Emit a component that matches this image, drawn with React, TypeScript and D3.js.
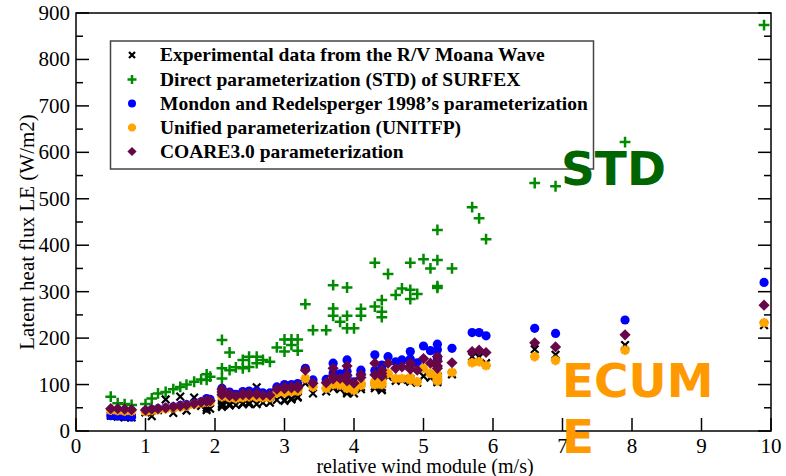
import { useEffect, useRef } from 'react';
import * as d3 from 'd3';

// wind speed (m/s) of each observation
const wind = [
  0.5, 0.6, 0.7, 0.8, 1.0, 1.09, 1.18, 1.29, 1.4, 1.5, 1.59, 1.7, 1.8, 1.88, 1.88, 1.93,
  2.1, 2.1, 2.1, 2.21, 2.21, 2.3, 2.4, 2.4, 2.49, 2.49, 2.6, 2.6, 2.69, 2.79, 2.89,
  3.0, 3.0, 3.1, 3.1, 3.19, 3.19, 3.3, 3.41, 3.6, 3.7, 3.7, 3.7, 3.8, 3.9, 3.9, 3.9,
  4.0, 4.1, 4.1, 4.3, 4.3, 4.4, 4.4, 4.4, 4.49, 4.6, 4.69, 4.81, 4.81, 4.81, 4.91,
  5.0, 5.1, 5.2, 5.2, 5.2, 5.2, 5.41, 5.7, 5.8, 5.9, 6.6, 6.9, 7.9, 9.9,
];
const experimental = [
  33, 31, 29, 29, 40, 32, 45, 68, 39, 74, 44, 72, 54, 45, 50, 48,
  52, 56, 60, 55, 58, 56, 58, 60, 58, 62, 94, 58, 61, 61, 67,
  67, 65, 70, 68, 74, 72, 103, 81, 85, 95, 100, 92, 90, 81, 88, 84,
  81, 95, 90, 92, 96, 88, 95, 90, 117, 108, 110, 112, 108, 106, 104,
  118, 115, 118, 112, 108, 105, 122, 160, 159, 146, 176, 164, 185, 228,
];
const std = [
  74, 60, 58, 56, 58, 70, 81, 84, 90, 95, 100, 106, 111, 122, 110, 117,
  196, 135, 113, 169, 131, 137, 153, 135, 160, 138, 160, 146, 153, 149, 180,
  197, 171, 197, 185, 197, 173, 273, 217, 217, 314, 264, 248, 235, 309, 248, 221,
  221, 263, 248, 362, 268, 282, 257, 245, 338, 293, 307, 362, 304, 284, 295,
  370, 350, 433, 368, 312, 308, 350, 482, 458, 413, 534, 527, 622, 874,
];
const mondon = [
  33, 32, 31, 30, 43, 46, 48, 50, 52, 55, 57, 60, 63, 66, 70, 68,
  92, 86, 80, 84, 80, 79, 85, 82, 86, 82, 86, 83, 82, 82, 95,
  100, 96, 100, 98, 102, 98, 135, 110, 111, 146, 125, 120, 123, 153, 128, 115,
  106, 131, 124, 164, 130, 142, 134, 128, 160, 149, 153, 171, 155, 148, 147,
  183, 173, 187, 175, 160, 155, 178, 212, 212, 205, 221, 210, 239, 320,
];
const unitfp = [
  45, 44, 43, 43, 42, 44, 46, 48, 50, 52, 54, 57, 60, 62, 63, 62,
  84, 80, 74, 75, 72, 70, 76, 72, 76, 74, 76, 73, 72, 72, 82,
  86, 83, 87, 85, 89, 86, 113, 95, 92, 113, 106, 100, 99, 106, 100, 92,
  88, 103, 98, 106, 100, 110, 104, 100, 124, 113, 113, 110, 115, 112, 106,
  135, 124, 110, 120, 112, 108, 126, 147, 149, 141, 160, 152, 174, 233,
];
const coare = [
  48, 48, 47, 46, 45, 47, 48, 50, 52, 54, 56, 59, 62, 64, 66, 65,
  90, 84, 78, 80, 76, 75, 81, 78, 81, 78, 81, 79, 77, 77, 90,
  95, 91, 95, 93, 97, 93, 131, 103, 104, 135, 118, 112, 113, 140, 120, 108,
  103, 121, 115, 146, 121, 131, 124, 118, 146, 135, 138, 146, 140, 133, 131,
  156, 146, 160, 150, 140, 135, 147, 171, 174, 169, 190, 181, 207, 271,
];
const legendLabels = [
  'Experimental data from the R/V Moana Wave',
  'Direct parameterization (STD) of SURFEX',
  'Mondon and Redelsperger 1998\u2019s parameterization',
  'Unified parameterization (UNITFP)',
  'COARE3.0 parameterization',
];
const xTicks = [0, 1, 2, 3, 4, 5, 6, 7, 8, 9, 10];
const yTicks = [0, 100, 200, 300, 400, 500, 600, 700, 800, 900];

const GREEN = '#008b00';
const BLUE = '#0000ff';
const ORANGE = '#ffa500';
const MAROON = '#670748';

// marker drawers: append a symbol centred at (cx, cy)
const drawCross = (g, cx, cy, s = 3.8) => {
  g.append('path')
    .attr('d', `M${cx - s},${cy - s}L${cx + s},${cy + s}M${cx - s},${cy + s}L${cx + s},${cy - s}`)
    .attr('stroke', '#000').attr('stroke-width', 2.2).attr('fill', 'none');
};
const drawPlus = (g, cx, cy, s = 5.4) => {
  g.append('path')
    .attr('d', `M${cx - s},${cy}L${cx + s},${cy}M${cx},${cy - s}L${cx},${cy + s}`)
    .attr('stroke', GREEN).attr('stroke-width', 2.5).attr('fill', 'none');
};
const drawCircle = (g, cx, cy, r = 4.6) => {
  g.append('circle').attr('cx', cx).attr('cy', cy).attr('r', r).attr('fill', BLUE);
};
const drawStar = (g, cx, cy, s = 4.8) => {
  const d = d3.range(4).map(i => {
    const a = (i * Math.PI) / 4;
    const dx = s * Math.cos(a), dy = s * Math.sin(a);
    return `M${cx - dx},${cy - dy}L${cx + dx},${cy + dy}`;
  }).join('');
  g.append('path').attr('d', d).attr('stroke', ORANGE).attr('stroke-width', 2.8).attr('fill', 'none');
};
const drawDiamond = (g, cx, cy, s = 5.6) => {
  g.append('path')
    .attr('d', `M${cx},${cy - s}L${cx + s},${cy}L${cx},${cy + s}L${cx - s},${cy}Z`)
    .attr('fill', MAROON);
};

const series = [
  { values: experimental, draw: drawCross },
  { values: std, draw: drawPlus },
  { values: mondon, draw: drawCircle },
  { values: unitfp, draw: drawStar },
  { values: coare, draw: drawDiamond },
];

const App = () => {
  const svgRef = useRef(null);

  useEffect(() => {
    const svg = d3.select(svgRef.current);
    svg.selectAll('*').remove();

    const left = 76, right = 771, top = 13, bottom = 431;
    const x = d3.scaleLinear().domain([0, 10]).range([left, right]);
    const y = d3.scaleLinear().domain([0, 900]).range([bottom, top]);

    const serif = '"Liberation Serif", "Times New Roman", serif';

    // frame
    svg.append('rect')
      .attr('x', left).attr('y', top).attr('width', right - left).attr('height', bottom - top)
      .attr('fill', 'none').attr('stroke', '#000').attr('stroke-width', 1.5);

    // y ticks (inward, both sides)
    const axes = svg.append('g').attr('stroke', '#000').attr('stroke-width', 1.5);
    d3.range(0, 901, 50).forEach(v => {
      const len = v % 100 === 0 ? 13 : 7;
      axes.append('line').attr('x1', left).attr('x2', left + len).attr('y1', y(v)).attr('y2', y(v));
      axes.append('line').attr('x1', right).attr('x2', right - len).attr('y1', y(v)).attr('y2', y(v));
    });
    xTicks.forEach(v => {
      axes.append('line').attr('x1', x(v)).attr('x2', x(v)).attr('y1', bottom).attr('y2', bottom - 13);
    });

    svg.append('g').selectAll('text').data(yTicks).join('text')
      .attr('x', left - 6).attr('y', d => y(d) + 7)
      .attr('text-anchor', 'end')
      .style('font-family', serif).style('font-size', '21px')
      .text(d => d);

    svg.append('g').selectAll('text').data(xTicks).join('text')
      .attr('x', d => x(d)).attr('y', bottom + 22)
      .attr('text-anchor', 'middle')
      .style('font-family', serif).style('font-size', '21px')
      .text(d => d);

    svg.append('text')
      .attr('x', 425).attr('y', 473)
      .attr('text-anchor', 'middle')
      .style('font-family', serif).style('font-size', '20px')
      .text('relative wind module (m/s)');

    svg.append('text')
      .attr('transform', 'translate(34,232) rotate(-90)')
      .attr('text-anchor', 'middle')
      .style('font-family', serif).style('font-size', '21px')
      .text('Latent heat flux LE (W/m2)');

    // points
    const pts = svg.append('g');
    series.forEach(s => {
      s.values.forEach((v, i) => s.draw(pts, x(wind[i]), y(v)));
    });

    // legend
    const lg = svg.append('g');
    lg.append('rect')
      .attr('x', 110.5).attr('y', 41).attr('width', 483).attr('height', 128)
      .attr('fill', '#fff').attr('stroke', '#444').attr('stroke-width', 1.5);
    const rowY = [55, 79.5, 103.5, 127.5, 151.5];
    const legendDraw = [
      (cx, cy) => drawCross(lg, cx, cy, 3),
      (cx, cy) => drawPlus(lg, cx, cy, 4.5),
      (cx, cy) => drawCircle(lg, cx, cy, 4),
      (cx, cy) => drawStar(lg, cx, cy, 4),
      (cx, cy) => drawDiamond(lg, cx, cy, 4.6),
    ];
    legendLabels.forEach((label, i) => {
      legendDraw[i](132, rowY[i]);
      lg.append('text')
        .attr('x', 160).attr('y', rowY[i] + 6)
        .style('font-family', serif).style('font-size', '19.5px').style('font-weight', 'bold')
        .text(label);
    });

    // annotations
    const sans = '"DejaVu Sans", sans-serif';
    svg.append('text')
      .attr('x', 561).attr('y', 185)
      .style('font-family', sans).style('font-weight', 'bold').style('font-size', '47px')
      .attr('fill', '#006400')
      .text('STD');
    svg.append('text')
      .attr('x', 562).attr('y', 397)
      .style('font-family', sans).style('font-weight', 'bold').style('font-size', '47px')
      .attr('fill', '#ff9900')
      .text('ECUM');
    svg.append('text')
      .attr('x', 562).attr('y', 453)
      .style('font-family', sans).style('font-weight', 'bold').style('font-size', '47px')
      .attr('fill', '#ff9900')
      .text('E');
  }, []);

  return (
    <div style={{ position: 'absolute', left: 0, top: 0 }}>
      <svg ref={svgRef} width={786} height={476} style={{ display: 'block', background: '#fff' }} />
    </div>
  );
};

export default App;
